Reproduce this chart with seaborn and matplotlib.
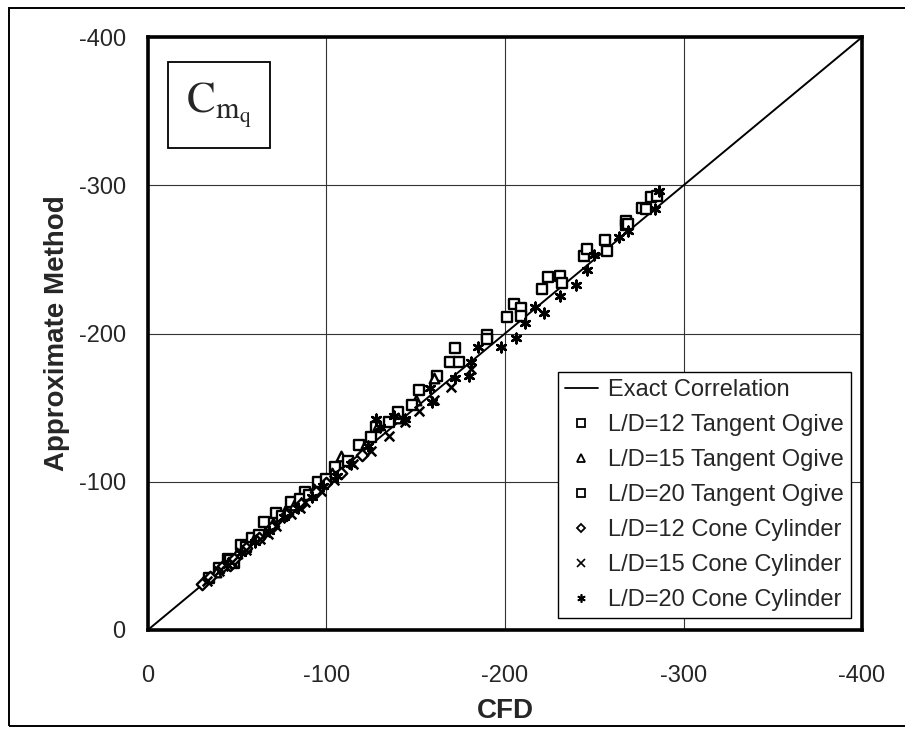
import matplotlib
matplotlib.use('Agg')
import matplotlib.pyplot as plt
import seaborn as sns
from matplotlib.lines import Line2D
from matplotlib.patches import Rectangle

# ---------------------------------------------------------
# 資料
# ---------------------------------------------------------
ogive12_cfd = [-34, -40, -45, -52, -58, -65, -72, -80, -88, -95, -105, -118, -128, -140, -152,
               -162, -169, -172, -174, -190, -190, -201]
ogive12_approx = [-35, -42, -48, -57, -62, -73, -79, -86, -93, -100, -110, -125, -137, -147, -162,
                  -171, -181, -190, -181, -199, -196, -211]

ogive15_cfd = [-38, -44, -50, -60, -70, -77, -82, -93, -103, -108, -122, -129, -140, -150, -160]
ogive15_approx = [-39, -46, -52, -63, -72, -80, -84, -95, -106, -117, -126, -138, -143, -155, -170]

ogive20_cfd = [-46, -48, -55, -62, -75, -85, -90, -100, -112, -125, -135, -148, -205, -209, -209,
               -221, -224, -231, -232, -244, -246, -256, -257, -268, -268, -269, -277, -279, -282,
               -285]
ogive20_approx = [-47, -45, -56, -64, -77, -88, -91, -102, -114, -130, -140, -152, -220, -217, -212,
                  -230, -238, -239, -234, -252, -257, -263, -256, -276, -273, -274, -285, -284, -292,
                  -293]

cone12_cfd = [-30, -35, -42, -46, -48, -55, -62, -70, -78, -86, -94, -100, -108, -120]
cone12_approx = [-31, -36, -43, -44, -48, -55, -62, -70, -78, -85, -93, -99, -106, -118]

cone15_cfd = [-33, -40, -47, -55, -63, -67, -72, -80, -85, -88, -97, -104, -115, -125, -135, -144,
              -152, -160, -170, -181]
cone15_approx = [-33, -40, -46, -54, -61, -65, -70, -78, -82, -86, -94, -101, -112, -121, -131, -140,
                 -148, -155, -164, -176]

cone20_cfd = [-44, -52, -60, -68, -76, -84, -92, -98, -106, -114, -123, -128, -130, -138, -144,
              -158, -159, -172, -180, -181, -185, -198, -206, -211, -217, -222, -231, -240, -246,
              -250, -264, -269, -284, -286]
cone20_approx = [-44, -52, -59, -67, -76, -82, -90, -97, -104, -112, -124, -142, -137, -144, -142,
                 -163, -154, -170, -171, -181, -191, -191, -197, -207, -218, -214, -225, -233, -243,
                 -253, -265, -269, -284, -296]

exact_line = [0, -400]
ticks = [0, -100, -200, -300, -400]

# ---------------------------------------------------------
# 樣式設定
# ---------------------------------------------------------
sns.set_style("white")
plt.rcParams['font.family'] = ['Liberation Sans', 'DejaVu Sans']
plt.rcParams['mathtext.fontset'] = 'stix'

fig = plt.figure(figsize=(9.05, 7.29), dpi=100)
ax = fig.add_axes([0.1635, 0.136, 0.789, 0.813])

# 外框
fig.patches.append(Rectangle((0.010, 0.004), 1.2, 0.985, transform=fig.transFigure,
                             fill=False, edgecolor='black', linewidth=1.4, clip_on=False))

ax.plot(exact_line, exact_line, color='black', linewidth=1.4, zorder=2)

series = [
    (ogive12_cfd, ogive12_approx, 's', 'L/D=12 Tangent Ogive'),
    (ogive15_cfd, ogive15_approx, '^', 'L/D=15 Tangent Ogive'),
    (ogive20_cfd, ogive20_approx, 's', 'L/D=20 Tangent Ogive'),
    (cone12_cfd, cone12_approx, 'D', 'L/D=12 Cone Cylinder'),
    (cone15_cfd, cone15_approx, 'x', 'L/D=15 Cone Cylinder'),
    (cone20_cfd, cone20_approx, (6, 2, 0), 'L/D=20 Cone Cylinder'),
]

handles = [Line2D([], [], color='black', linewidth=1.3, label='Exact Correlation')]
for xs, ys, mk, name in series:
    size = 48 if mk != 'D' else 34
    if mk in ('x',) or isinstance(mk, tuple):
        sns.scatterplot(x=xs, y=ys, marker=mk, color='black', s=size, linewidth=1.8, ax=ax, zorder=3)
        handles.append(Line2D([], [], linestyle='none', marker=mk, color='black',
                              markersize=6, markeredgewidth=1.2, label=name))
    else:
        sns.scatterplot(x=xs, y=ys, marker=mk, facecolor='white', edgecolor='black', s=size,
                        linewidth=1.7, ax=ax, zorder=3)
        handles.append(Line2D([], [], linestyle='none', marker=mk, markerfacecolor='white',
                              markeredgecolor='black', markersize=5.5 if mk != 'D' else 4.5,
                              markeredgewidth=1.3, label=name))

ax.set_xlim(0, -400)
ax.set_ylim(0, -400)
ax.set_xticks(ticks)
ax.set_yticks(ticks)
ax.set_xticklabels([str(t) for t in ticks])
ax.set_yticklabels([str(t) for t in ticks])
ax.tick_params(axis='both', direction='out', length=4, width=1, color='black', labelsize=17)
ax.tick_params(axis='x', pad=21)
ax.tick_params(axis='y', pad=12)
ax.grid(True, color='0.2', linewidth=0.8)
for sp in ax.spines.values():
    sp.set_color('black')
    sp.set_linewidth(2.6)

ax.set_xlabel('CFD', fontsize=20, fontweight='bold', labelpad=8)
ax.set_ylabel('Approximate Method', fontsize=20, fontweight='bold', labelpad=6)

# C_mq 標示框
ax.text(0.0994, 0.885, r'$\mathrm{C_{m_q}}$', transform=ax.transAxes, fontsize=31,
        ha='center', va='center',
        bbox=dict(boxstyle='square,pad=0.42', facecolor='white', edgecolor='black', linewidth=1.3))

leg = ax.legend(handles=handles, loc='lower right', bbox_to_anchor=(0.985, 0.02), fontsize=17,
                frameon=True, fancybox=False, edgecolor='black', framealpha=1,
                handlelength=1.4, handletextpad=0.45, labelspacing=0.55, borderpad=0.3,
                borderaxespad=0)
leg.get_frame().set_linewidth(1.0)

fig.savefig('out.png', dpi=100)
